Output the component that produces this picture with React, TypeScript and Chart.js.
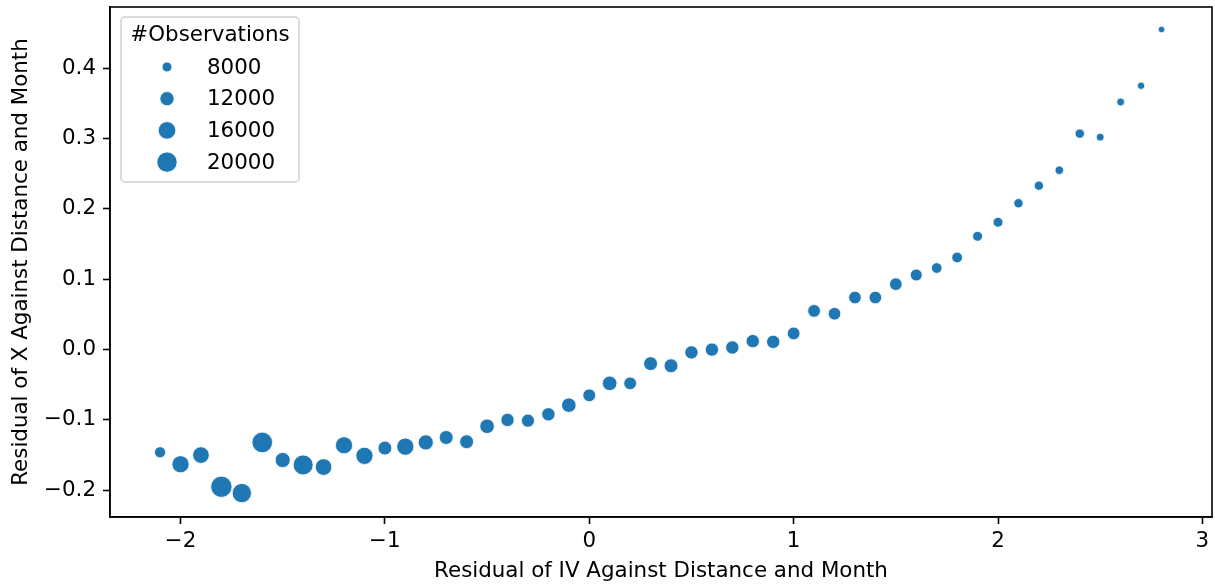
import React, { useEffect, useRef } from "react";
import { Chart, registerables } from "chart.js";

Chart.register(...registerables);

const xValues = [
  -2.1, -2.0, -1.9, -1.8, -1.7, -1.6, -1.5, -1.4, -1.3, -1.2,
  -1.1, -1.0, -0.9, -0.8, -0.7, -0.6, -0.5, -0.4, -0.3, -0.2,
  -0.1, 0.0, 0.1, 0.2, 0.3, 0.4, 0.5, 0.6, 0.7, 0.8,
  0.9, 1.0, 1.1, 1.2, 1.3, 1.4, 1.5, 1.6, 1.7, 1.8,
  1.9, 2.0, 2.1, 2.2, 2.3, 2.4, 2.5, 2.6, 2.7, 2.8,
];

const yValues = [
  -0.146, -0.163, -0.15, -0.195, -0.204, -0.132, -0.157, -0.164, -0.167, -0.136,
  -0.151, -0.14, -0.138, -0.132, -0.125, -0.131, -0.109, -0.1, -0.101, -0.092,
  -0.079, -0.065, -0.048, -0.048, -0.02, -0.023, -0.004, 0.0, 0.003, 0.012,
  0.011, 0.023, 0.055, 0.051, 0.074, 0.074, 0.093, 0.106, 0.116, 0.131,
  0.161, 0.181, 0.208, 0.233, 0.255, 0.307, 0.302, 0.352, 0.375, 0.455,
];

const observations = [
  9000, 15500, 14800, 21500, 18500, 20500, 13000, 19500, 14800, 15500,
  15500, 11600, 15500, 13000, 11600, 11600, 12300, 11000, 10800, 11000,
  12300, 10500, 12300, 10400, 11600, 11600, 11000, 11000, 11000, 11000,
  11000, 10400, 10400, 10300, 10300, 10300, 10300, 9700, 8600, 8600,
  8000, 8000, 7600, 7600, 7100, 7600, 6700, 6700, 6400, 6000,
];

const legendSizes = [8000, 12000, 16000, 20000];
const legendTitle = "#Observations";
const xTitle = "Residual of IV Against Distance and Month";
const yTitle = "Residual of X Against Distance and Month";

const BLUE = "#1f77b4";
const FONT = "'DejaVu Sans', sans-serif";
const FS = 21.4;

function radiusFor(n: number): number {
  const d2 = Math.max(20, 86 + 0.0252 * (n - 8000));
  return Math.sqrt(d2) / 2 + 0.3;
}

function fmt(v: number, decimals: number): string {
  const s = Math.abs(v).toFixed(decimals);
  if (Math.abs(v) < 1e-9) return (0).toFixed(decimals);
  return v < 0 ? "\u2212" + s : s;
}

const framePlugin = {
  id: "frameAndLegend",
  afterDraw(chart: any) {
    const { ctx, chartArea } = chart;
    ctx.save();
    ctx.strokeStyle = "#000";
    ctx.lineWidth = 1.6;
    ctx.strokeRect(chartArea.left, chartArea.top, chartArea.right - chartArea.left, chartArea.bottom - chartArea.top);

    const bx = chartArea.left + 11;
    const by = chartArea.top + 10;
    const bw = 178;
    const bh = 165;
    const r = 4;
    ctx.beginPath();
    ctx.moveTo(bx + r, by);
    ctx.lineTo(bx + bw - r, by);
    ctx.arcTo(bx + bw, by, bx + bw, by + r, r);
    ctx.lineTo(bx + bw, by + bh - r);
    ctx.arcTo(bx + bw, by + bh, bx + bw - r, by + bh, r);
    ctx.lineTo(bx + r, by + bh);
    ctx.arcTo(bx, by + bh, bx, by + bh - r, r);
    ctx.lineTo(bx, by + r);
    ctx.arcTo(bx, by, bx + r, by, r);
    ctx.closePath();
    ctx.fillStyle = "rgba(255,255,255,0.8)";
    ctx.fill();
    ctx.strokeStyle = "#d0d0d0";
    ctx.lineWidth = 1.5;
    ctx.stroke();

    ctx.fillStyle = "#000";
    ctx.font = `${FS}px ${FONT}`;
    ctx.textAlign = "center";
    ctx.textBaseline = "middle";
    ctx.fillText(legendTitle, bx + bw / 2, by + 18);

    legendSizes.forEach((n, i) => {
      const cy = by + 50 + i * 31.7;
      ctx.beginPath();
      ctx.arc(bx + 46, cy, radiusFor(n), 0, Math.PI * 2);
      ctx.fillStyle = BLUE;
      ctx.fill();
      ctx.strokeStyle = "#fff";
      ctx.lineWidth = 0.8;
      ctx.stroke();
      ctx.fillStyle = "#000";
      ctx.textAlign = "left";
      ctx.fillText(String(n), bx + 86, cy + 1);
    });
    ctx.restore();
  },
};

export default function App() {
  const canvasRef = useRef<HTMLCanvasElement | null>(null);

  useEffect(() => {
    if (!canvasRef.current) return;
    const points = xValues.map((x, i) => ({ x, y: yValues[i] }));
    const chart = new Chart(canvasRef.current, {
      type: "scatter",
      data: {
        datasets: [
          {
            label: legendTitle,
            data: points,
            backgroundColor: BLUE,
            borderColor: "#ffffff",
            borderWidth: 0.8,
            pointRadius: (c: any) => radiusFor(observations[c.dataIndex]),
            pointHoverRadius: (c: any) => radiusFor(observations[c.dataIndex]),
          },
        ],
      },
      options: {
        animation: false,
        responsive: false,
        devicePixelRatio: 1,
        color: "#000",
        layout: { autoPadding: false, padding: { top: 7, right: 3, left: 0, bottom: 0 } },
        plugins: {
          legend: { display: false },
          tooltip: { enabled: false },
        },
        scales: {
          x: {
            type: "linear",
            min: -2.345,
            max: 3.047,
            afterFit: (s: any) => {
              s.height = 69;
              s.paddingLeft = 0;
              s.paddingRight = 0;
            },
            ticks: {
              stepSize: 1,
              includeBounds: false,
              color: "#000",
              font: { family: FONT, size: FS },
              padding: 5,
              callback: (v: any) => fmt(Number(v), 0),
            },
            grid: {
              display: true,
              drawOnChartArea: false,
              drawTicks: true,
              tickLength: 7,
              tickWidth: 1.6,
              tickColor: "#000",
            },
            border: { display: true, color: "#000", width: 1.6 },
            title: {
              display: true,
              text: xTitle,
              color: "#000",
              font: { family: FONT, size: FS },
              padding: { top: 0, bottom: 2 },
            },
          },
          y: {
            type: "linear",
            min: -0.238,
            max: 0.487,
            afterFit: (s: any) => {
              s.width = 110;
              s.paddingTop = 0;
              s.paddingBottom = 0;
            },
            ticks: {
              stepSize: 0.1,
              includeBounds: false,
              color: "#000",
              font: { family: FONT, size: FS },
              padding: 7,
              callback: (v: any) => fmt(Number(v), 1),
            },
            grid: {
              display: true,
              drawOnChartArea: false,
              drawTicks: true,
              tickLength: 7,
              tickWidth: 1.6,
              tickColor: "#000",
            },
            border: { display: true, color: "#000", width: 1.6 },
            title: {
              display: true,
              text: yTitle,
              color: "#000",
              font: { family: FONT, size: FS },
              padding: { top: 9, bottom: 0 },
            },
          },
        },
      },
      plugins: [framePlugin],
    } as any);
    return () => chart.destroy();
  }, []);

  return (
    <div style={{ position: "fixed", left: 0, top: 0, width: 1215, height: 586, background: "#fff" }}>
      <canvas ref={canvasRef} width={1215} height={586} style={{ display: "block" }} />
    </div>
  );
}
